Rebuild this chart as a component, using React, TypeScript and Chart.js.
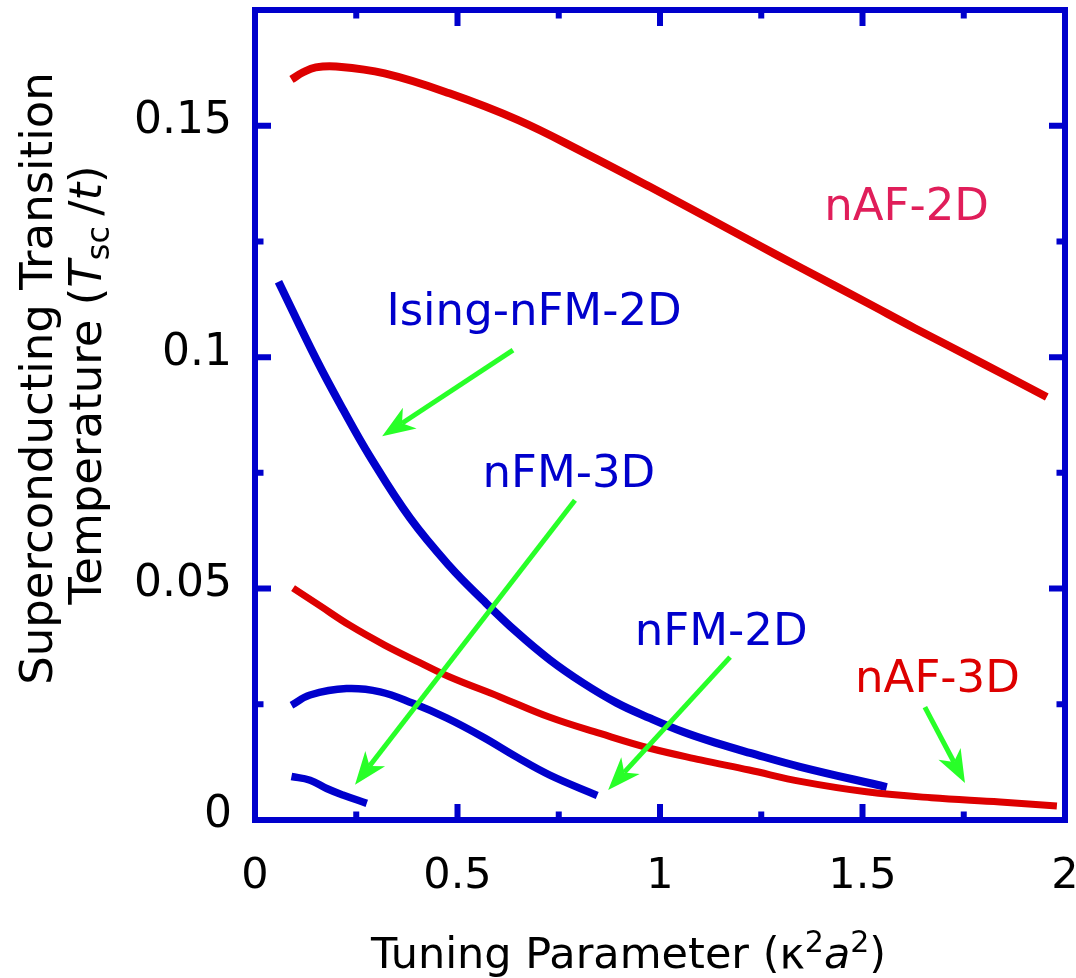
import React, { useEffect, useRef } from "react";
import { Chart, registerables } from "chart.js";

Chart.register(...registerables);

const FONT = "'DejaVu Sans', Verdana, sans-serif";
const BLUE = "#0000cc";
const RED = "#dd0000";
const CRIMSON = "#e01e5a";
const GREEN = "#28ff28";

// Axis tick labels (major ticks only; minor ticks stay unlabelled)
const xTickLabels = ["0", "0.5", "1", "1.5", "2"];
const yTickLabels = ["0", "0.05", "0.1", "0.15"];

// Tuning parameter (kappa^2 a^2) and Tsc/t for each model
const nAF2D_x = [0.09, 0.12, 0.15, 0.2, 0.32, 0.48, 0.65, 0.81, 0.975, 1.12, 1.23, 1.35, 1.51, 1.63, 1.8, 1.955];
const nAF2D_y = [0.16, 0.1616, 0.1626, 0.1628, 0.1613, 0.157, 0.1512, 0.1443, 0.1368, 0.13, 0.1248, 0.1192, 0.1118, 0.1062, 0.0985, 0.0914];

const isingFM2D_x = [0.058, 0.152, 0.218, 0.284, 0.383, 0.481, 0.563, 0.646, 0.728, 0.81, 0.893, 0.975, 1.058, 1.14, 1.222, 1.346, 1.56];
const isingFM2D_y = [0.1163, 0.0994, 0.0886, 0.0785, 0.0652, 0.0548, 0.0475, 0.0406, 0.0346, 0.0296, 0.0253, 0.022, 0.019, 0.0166, 0.0145, 0.0115, 0.0071];

const nAF3D_x = [0.094, 0.16, 0.235, 0.32, 0.407, 0.481, 0.605, 0.728, 0.852, 0.975, 1.1, 1.22, 1.35, 1.51, 1.67, 1.84, 1.98];
const nAF3D_y = [0.0501, 0.0463, 0.042, 0.0378, 0.034, 0.0309, 0.0266, 0.0222, 0.0187, 0.0155, 0.013, 0.0108, 0.0083, 0.0061, 0.0048, 0.0039, 0.003];

const nFM2D_x = [0.09, 0.136, 0.226, 0.309, 0.39, 0.474, 0.563, 0.646, 0.728, 0.845];
const nFM2D_y = [0.0248, 0.027, 0.0284, 0.0277, 0.0252, 0.022, 0.0179, 0.0136, 0.0097, 0.0053];

const nFM3D_x = [0.09, 0.136, 0.177, 0.217, 0.276];
const nFM3D_y = [0.0094, 0.0086, 0.0068, 0.0054, 0.0036];

// Curve labels (centre x, baseline y in data units)
const labelTexts = ["nAF-2D", "Ising-nFM-2D", "nFM-3D", "nFM-2D", "nAF-3D"];
const labelX = [1.609, 0.689, 0.775, 1.151, 1.685];
const labelY = [0.1296, 0.1069, 0.0719, 0.0378, 0.0276];
const labelColors = [CRIMSON, BLUE, BLUE, BLUE, RED];

// Pointer arrows from label to curve (tail -> tip, data units)
const arrowFromX = [0.637, 0.79, 1.173, 1.654];
const arrowFromY = [0.1015, 0.0691, 0.0352, 0.0244];
const arrowToX = [0.314, 0.247, 0.872, 1.753];
const arrowToY = [0.0829, 0.0076, 0.0065, 0.008];

type Run = { text: string; size: number; italic?: boolean; dy?: number };

const runFont = (r: Run) => `${r.italic ? "italic " : ""}${r.size}px ${FONT}`;

function drawRuns(ctx: CanvasRenderingContext2D, runs: Run[], cx: number, baseline: number) {
  let total = 0;
  for (const r of runs) {
    ctx.font = runFont(r);
    total += ctx.measureText(r.text).width;
  }
  let x = cx - total / 2;
  ctx.textAlign = "left";
  ctx.textBaseline = "alphabetic";
  for (const r of runs) {
    ctx.font = runFont(r);
    ctx.fillText(r.text, x, baseline + (r.dy || 0));
    x += ctx.measureText(r.text).width;
  }
}

function drawArrow(ctx: CanvasRenderingContext2D, x1: number, y1: number, x2: number, y2: number) {
  const dx = x2 - x1;
  const dy = y2 - y1;
  const len = Math.hypot(dx, dy);
  const ux = dx / len;
  const uy = dy / len;
  const nx = -uy;
  const ny = ux;
  const L = 33;
  const W = 12.5;
  const notch = 0.72 * L;
  ctx.save();
  ctx.strokeStyle = GREEN;
  ctx.fillStyle = GREEN;
  ctx.lineWidth = 5;
  ctx.lineCap = "butt";
  ctx.beginPath();
  ctx.moveTo(x1, y1);
  ctx.lineTo(x2 - ux * notch, y2 - uy * notch);
  ctx.stroke();
  ctx.beginPath();
  ctx.moveTo(x2, y2);
  ctx.lineTo(x2 - ux * L + nx * W, y2 - uy * L + ny * W);
  ctx.lineTo(x2 - ux * notch, y2 - uy * notch);
  ctx.lineTo(x2 - ux * L - nx * W, y2 - uy * L - ny * W);
  ctx.closePath();
  ctx.fill();
  ctx.restore();
}

const fmt = (v: number) => String(Math.round(v * 1000) / 1000);

const frameAndNotes = {
  id: "frameAndNotes",
  afterDraw(chart: any) {
    const ctx: CanvasRenderingContext2D = chart.ctx;
    const { left, right, top, bottom } = chart.chartArea;
    const xs = chart.scales.x;
    const ys = chart.scales.y;
    ctx.save();

    // Tick marks pointing inward on all four sides
    ctx.strokeStyle = BLUE;
    ctx.lineWidth = 6;
    ctx.lineCap = "butt";
    const major = 16;
    const minor = 8.5;
    xs.ticks.forEach((t: any) => {
      const px = xs.getPixelForValue(t.value);
      if (Math.abs(px - left) < 1 || Math.abs(px - right) < 1) return;
      const len = xTickLabels.includes(fmt(t.value)) ? major : minor;
      ctx.beginPath();
      ctx.moveTo(px, bottom);
      ctx.lineTo(px, bottom - len);
      ctx.moveTo(px, top);
      ctx.lineTo(px, top + len);
      ctx.stroke();
    });
    ys.ticks.forEach((t: any) => {
      const py = ys.getPixelForValue(t.value);
      if (Math.abs(py - top) < 1 || Math.abs(py - bottom) < 1) return;
      const len = yTickLabels.includes(fmt(t.value)) ? major : minor;
      ctx.beginPath();
      ctx.moveTo(left, py);
      ctx.lineTo(left + len, py);
      ctx.moveTo(right, py);
      ctx.lineTo(right - len, py);
      ctx.stroke();
    });

    // Plot frame
    ctx.lineJoin = "miter";
    ctx.strokeRect(left, top, right - left, bottom - top);

    // Arrows
    for (let i = 0; i < arrowFromX.length; i++) {
      drawArrow(
        ctx,
        xs.getPixelForValue(arrowFromX[i]),
        ys.getPixelForValue(arrowFromY[i]),
        xs.getPixelForValue(arrowToX[i]),
        ys.getPixelForValue(arrowToY[i])
      );
    }

    // Curve labels
    ctx.font = `45px ${FONT}`;
    ctx.textAlign = "center";
    ctx.textBaseline = "alphabetic";
    for (let i = 0; i < labelTexts.length; i++) {
      ctx.fillStyle = labelColors[i];
      ctx.fillText(labelTexts[i], xs.getPixelForValue(labelX[i]), ys.getPixelForValue(labelY[i]));
    }

    // Axis titles
    ctx.fillStyle = "#000";
    drawRuns(
      ctx,
      [
        { text: "Tuning Parameter (\u03ba", size: 43 },
        { text: "2", size: 30, dy: -16 },
        { text: "a", size: 43, italic: true },
        { text: "2", size: 30, dy: -16 },
        { text: ")", size: 43 },
      ],
      628.5,
      968
    );

    ctx.save();
    ctx.translate(52, 378.5);
    ctx.rotate(-Math.PI / 2);
    drawRuns(ctx, [{ text: "Superconducting Transition", size: 45 }], 0, 0);
    ctx.restore();

    ctx.save();
    ctx.translate(101, 385);
    ctx.rotate(-Math.PI / 2);
    drawRuns(
      ctx,
      [
        { text: "Temperature (", size: 45 },
        { text: "T", size: 45, italic: true },
        { text: "sc ", size: 32, dy: 8 },
        { text: "/", size: 45 },
        { text: "t", size: 45, italic: true },
        { text: ")", size: 45 },
      ],
      0,
      0
    );
    ctx.restore();

    ctx.restore();
  },
};

const series = (xs: number[], ys: number[]) => xs.map((x, i) => ({ x, y: ys[i] }));

export default function App() {
  const ref = useRef<HTMLCanvasElement>(null);

  useEffect(() => {
    const canvas = ref.current;
    if (!canvas) return;
    const line = (label: string, data: any[], color: string, width: number) => ({
      label,
      data,
      borderColor: color,
      backgroundColor: color,
      borderWidth: width,
      showLine: true,
      fill: false,
      pointRadius: 0,
      tension: 0.4,
      borderCapStyle: "butt" as const,
      borderJoinStyle: "round" as const,
    });
    const chart = new Chart(canvas, {
      type: "scatter",
      data: {
        datasets: [
          line("nAF-3D", series(nAF3D_x, nAF3D_y), RED, 7),
          line("Ising-nFM-2D", series(isingFM2D_x, isingFM2D_y), BLUE, 8),
          line("nAF-2D", series(nAF2D_x, nAF2D_y), RED, 8),
          line("nFM-2D", series(nFM2D_x, nFM2D_y), BLUE, 7.5),
          line("nFM-3D", series(nFM3D_x, nFM3D_y), BLUE, 7.5),
        ],
      },
      options: {
        animation: false,
        responsive: false,
        devicePixelRatio: 1,
        events: [],
        layout: { padding: { left: 0, right: 11, top: 10, bottom: 0 } },
        plugins: { legend: { display: false }, tooltip: { enabled: false } },
        scales: {
          x: {
            type: "linear",
            min: 0,
            max: 2,
            grid: { display: false, drawTicks: false },
            border: { display: false },
            ticks: {
              stepSize: 0.25,
              autoSkip: false,
              maxRotation: 0,
              minRotation: 0,
              padding: 31,
              color: "#000",
              font: { family: FONT, size: 43 },
              callback: (v: any) => (xTickLabels.includes(fmt(Number(v))) ? fmt(Number(v)) : ""),
            },
            afterFit: (s: any) => {
              s.height = 158;
              s.paddingLeft = 0;
              s.paddingRight = 0;
            },
          },
          y: {
            type: "linear",
            min: 0,
            max: 0.175,
            grid: { display: false, drawTicks: false },
            border: { display: false },
            ticks: {
              stepSize: 0.025,
              autoSkip: false,
              padding: 23,
              labelOffset: -4,
              color: "#000",
              font: { family: FONT, size: 44 },
              callback: (v: any) => (yTickLabels.includes(fmt(Number(v))) ? fmt(Number(v)) : ""),
            },
            afterFit: (s: any) => {
              s.width = 255;
              s.paddingTop = 0;
              s.paddingBottom = 0;
            },
          },
        },
      } as any,
      plugins: [frameAndNotes],
    });
    return () => chart.destroy();
  }, []);

  return (
    <div style={{ position: "fixed", left: 0, top: 0, width: 1076, height: 978, background: "#fff" }}>
      <canvas ref={ref} width={1076} height={978} style={{ display: "block", width: 1076, height: 978 }} />
    </div>
  );
}
